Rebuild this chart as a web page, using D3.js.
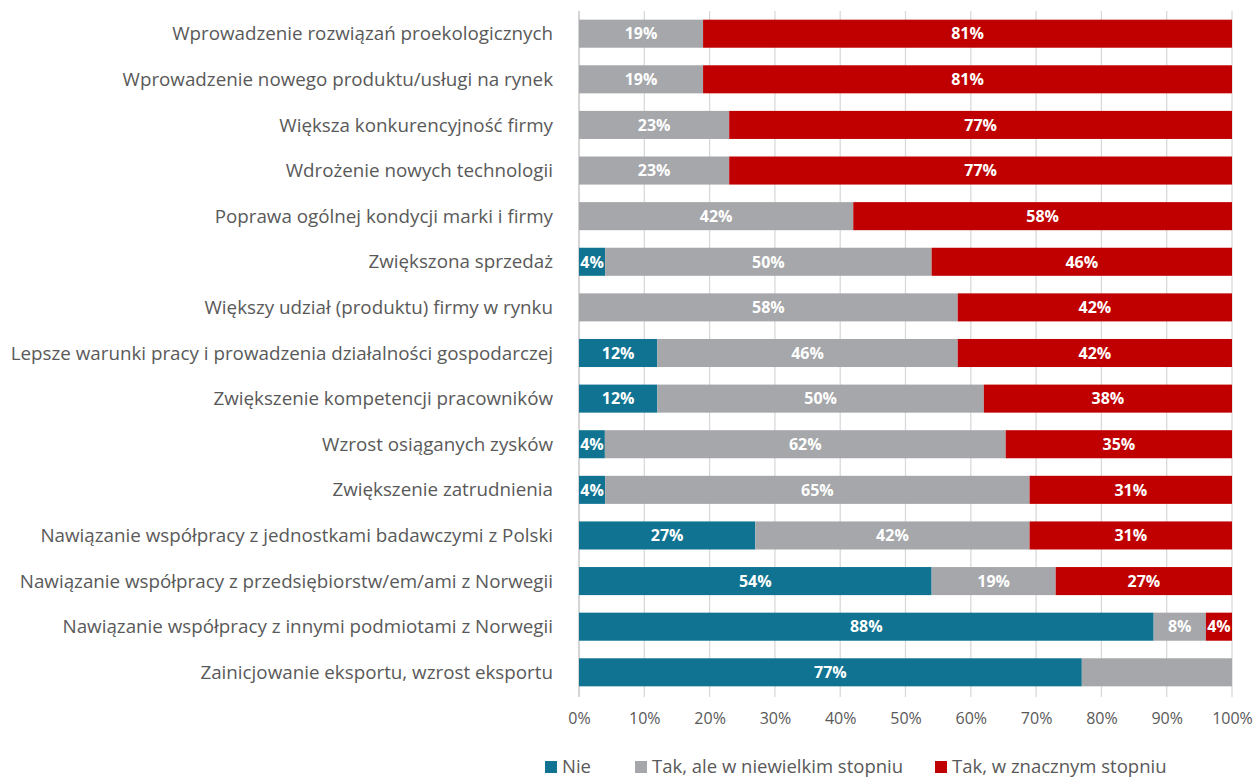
<!DOCTYPE html>
<html>
<head>
<meta charset="utf-8">
<script src="https://cdn.jsdelivr.net/npm/d3@7"></script>
<style>
  html, body { margin: 0; padding: 0; background: #fff; }
  svg { display: block; font-family: "Open Sans", Lato, sans-serif; }
</style>
</head>
<body>
<svg id="chart" width="1255" height="780"></svg>
<script>
// Categories, top to bottom
const categories = [
  "Wprowadzenie rozwiązań proekologicznych",
  "Wprowadzenie nowego produktu/usługi na rynek",
  "Większa konkurencyjność firmy",
  "Wdrożenie nowych technologii",
  "Poprawa ogólnej kondycji marki i firmy",
  "Zwiększona sprzedaż",
  "Większy udział (produktu) firmy w rynku",
  "Lepsze warunki pracy i prowadzenia działalności gospodarczej",
  "Zwiększenie kompetencji pracowników",
  "Wzrost osiąganych zysków",
  "Zwiększenie zatrudnienia",
  "Nawiązanie współpracy z jednostkami badawczymi z Polski",
  "Nawiązanie współpracy z przedsiębiorstw/em/ami z Norwegii",
  "Nawiązanie współpracy z innymi podmiotami z Norwegii",
  "Zainicjowanie eksportu, wzrost eksportu"
];

// Series values (percent of answers)
const nie      = [0, 0, 0, 0, 0, 4, 0, 12, 12, 4, 4, 27, 54, 88, 77];
const takMalo  = [19, 19, 23, 23, 42, 50, 58, 46, 50, 62, 65, 42, 19, 8, 23];
const takDuzo  = [81, 81, 77, 77, 58, 46, 42, 42, 38, 35, 31, 31, 27, 4, 0];

// Series names and colours
const seriesNames = ["Nie", "Tak, ale w niewielkim stopniu", "Tak, w znacznym stopniu"];
const seriesKeys = ["nie", "takMalo", "takDuzo"];
const seriesColors = ["#0F7391", "#A5A7AA", "#C00000"];

// Cells drawn without a value label: [row index, series key]
const unlabeled = [[14, "takMalo"]];

// Axis tick values
const tickValues = [0, 0.1, 0.2, 0.3, 0.4, 0.5, 0.6, 0.7, 0.8, 0.9, 1.0];

const rows = categories.map((c, i) => ({
  category: c, nie: nie[i], takMalo: takMalo[i], takDuzo: takDuzo[i]
}));

const svg = d3.select("#chart");
const margin = { left: 579, right: 23, top: 11, bottom: 85 };
const W = 1255, H = 780;

const x = d3.scaleLinear().domain([0, 1]).range([margin.left, W - margin.right]);
const y = d3.scaleBand().domain(categories)
  .range([margin.top, H - margin.bottom]).paddingInner(0.385).paddingOuter(0.19);

const stack = d3.stack().keys(seriesKeys).offset(d3.stackOffsetExpand);
const series = stack(rows);

// Vertical gridlines
const gridBottom = y.range()[1] + 2;
svg.append("g").selectAll("line")
  .data(tickValues.slice(1))
  .join("line")
  .attr("x1", d => x(d)).attr("x2", d => x(d))
  .attr("y1", margin.top).attr("y2", gridBottom)
  .attr("stroke", "#D9D9D9").attr("stroke-width", 1.3);

// Left axis line
svg.append("line")
  .attr("x1", x(0)).attr("x2", x(0))
  .attr("y1", margin.top).attr("y2", gridBottom)
  .attr("stroke", "#BFBFBF").attr("stroke-width", 1.3);

// Bars
const groups = svg.append("g").selectAll("g")
  .data(series)
  .join("g")
  .attr("fill", (d, i) => seriesColors[i]);

groups.selectAll("rect")
  .data(d => d.map(v => ({ v, key: d.key })))
  .join("rect")
  .attr("x", d => x(d.v[0]))
  .attr("width", d => Math.max(0, x(d.v[1]) - x(d.v[0])))
  .attr("y", d => y(d.v.data.category))
  .attr("height", y.bandwidth());

// Value labels
const isUnlabeled = (rowIdx, key) => unlabeled.some(u => u[0] === rowIdx && u[1] === key);
groups.selectAll("text")
  .data(d => d.map((v, i) => ({ v, key: d.key, i })))
  .join("text")
  .filter(d => d.v.data[d.key] > 0 && !isUnlabeled(d.i, d.key))
  .attr("x", d => (x(d.v[0]) + x(d.v[1])) / 2)
  .attr("y", d => y(d.v.data.category) + y.bandwidth() / 2)
  .attr("dy", "0.36em")
  .attr("text-anchor", "middle")
  .attr("fill", "#fff")
  .attr("font-weight", "bold")
  .attr("font-size", 16)
  .text(d => d.v.data[d.key] + "%");

// Category labels
svg.append("g").selectAll("text")
  .data(categories)
  .join("text")
  .attr("x", x(0) - 26)
  .attr("y", d => y(d) + y.bandwidth() / 2)
  .attr("dy", "0.35em")
  .attr("text-anchor", "end")
  .attr("fill", "#595959")
  .attr("font-size", 18.8)
  .text(d => d);

// Bottom axis tick labels
const xAxis = d3.axisBottom(x).tickValues(tickValues)
  .tickFormat(d3.format(".0%")).tickSize(0).tickPadding(0);
const axisG = svg.append("g")
  .attr("transform", `translate(0, ${gridBottom + 16})`)
  .call(xAxis);
axisG.select(".domain").remove();
axisG.selectAll("text")
  .attr("fill", "#595959")
  .attr("font-size", 16)
  .attr("font-family", "'Open Sans', Lato, sans-serif");

// Legend
const legendX = [545, 635, 935];
const legend = svg.append("g").selectAll("g")
  .data(seriesNames)
  .join("g")
  .attr("transform", (d, i) => `translate(${legendX[i]}, 767)`);
legend.append("rect")
  .attr("x", 0).attr("y", -6).attr("width", 12).attr("height", 12)
  .attr("fill", (d, i) => seriesColors[i]);
legend.append("text")
  .attr("x", 17).attr("y", 0).attr("dy", "0.35em")
  .attr("fill", "#595959").attr("font-size", 18.5)
  .text(d => d);
</script>
</body>
</html>
